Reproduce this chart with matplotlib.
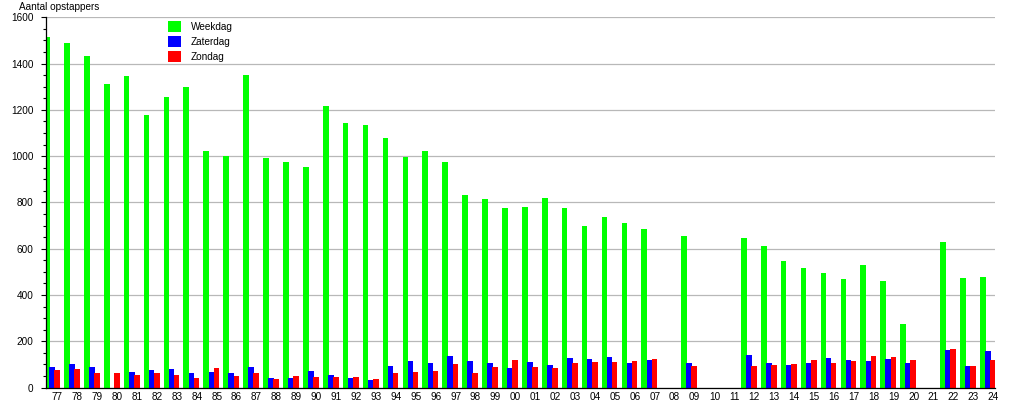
import matplotlib
matplotlib.use('Agg')
import matplotlib.pyplot as plt
from matplotlib.ticker import MultipleLocator
import numpy as np

# jaartallen op de x-as (1977 t/m 2024)
jaren = ['77', '78', '79', '80', '81', '82', '83', '84', '85', '86', '87', '88',
         '89', '90', '91', '92', '93', '94', '95', '96', '97', '98', '99', '00',
         '01', '02', '03', '04', '05', '06', '07', '08', '09', '10', '11', '12',
         '13', '14', '15', '16', '17', '18', '19', '20', '21', '22', '23', '24']

# aantal opstappers per dagtype (0 = geen gegevens)
weekdag = [1515, 1488, 1434, 1313, 1348, 1177, 1257, 1300, 1021, 1001, 1351, 991,
           973, 952, 1215, 1144, 1134, 1077, 995, 1021, 973, 834, 813, 774,
           782, 817, 774, 700, 739, 713, 683, 0, 657, 0, 0, 648,
           613, 549, 518, 497, 471, 531, 462, 275, 0, 627, 475, 479]
zaterdag = [90, 102, 90, 0, 69, 78, 80, 65, 69, 63, 89, 42,
            42, 73, 55, 42, 33, 93, 115, 106, 136, 115, 106, 85,
            111, 98, 128, 124, 132, 106, 119, 0, 106, 0, 0, 141,
            106, 98, 106, 128, 119, 115, 124, 106, 0, 162, 93, 158]
zondag = [76, 80, 63, 65, 55, 65, 55, 42, 86, 50, 63, 37,
          50, 46, 46, 46, 37, 63, 68, 72, 102, 63, 89, 119,
          89, 85, 106, 111, 111, 115, 124, 0, 93, 0, 0, 93,
          98, 102, 119, 106, 115, 136, 132, 119, 0, 167, 93, 119]

plt.rcParams['font.family'] = ['Liberation Sans', 'DejaVu Sans']

fig = plt.figure(figsize=(10.15, 4.0), dpi=100)
ax = fig.add_axes([45.5 / 1015, 1 - 387.6 / 400, 949.5 / 1015, 370.4 / 400])

x = np.arange(len(jaren))
breedte = 0.286
stap = 0.256

ax.bar(x - stap, weekdag, breedte, color='#00ff00', label='Weekdag', zorder=2)
ax.bar(x, zaterdag, breedte, color='#0000ff', label='Zaterdag', zorder=3)
ax.bar(x + stap, zondag, breedte, color='#ff0000', label='Zondag', zorder=4)

ax.set_xlim(-0.33, 47.36)
ax.set_ylim(0, 1600)

ax.set_xticks(x + 0.27)
ax.set_xticklabels(jaren, fontsize=7.2)
ax.tick_params(axis='x', length=0, pad=3)

ax.yaxis.set_major_locator(MultipleLocator(200))
ax.yaxis.set_minor_locator(MultipleLocator(50))
ax.tick_params(axis='y', which='major', length=3.5, width=0.8, labelsize=7.2, pad=5)
ax.tick_params(axis='y', which='minor', length=2.5, width=0.8)

ax.grid(axis='y', which='major', color='#b8b8b8', linewidth=0.9, zorder=0)
ax.set_axisbelow(True)

for s in ['top', 'right']:
    ax.spines[s].set_visible(False)
for s in ['left', 'bottom']:
    ax.spines[s].set_linewidth(0.9)
    ax.spines[s].set_zorder(5)

fig.text(19 / 1015, 1 - 1.5 / 400, 'Aantal opstappers', fontsize=7.2, ha='left', va='top')

ax.legend(loc='upper left', bbox_to_anchor=(168 / 1015, 1 - 21 / 400),
          bbox_transform=fig.transFigure, frameon=False, fontsize=7.2,
          handlelength=1.25, handleheight=1.3, handletextpad=1.0,
          labelspacing=0.42, borderpad=0, borderaxespad=0)

fig.savefig('out.png', dpi=100)
